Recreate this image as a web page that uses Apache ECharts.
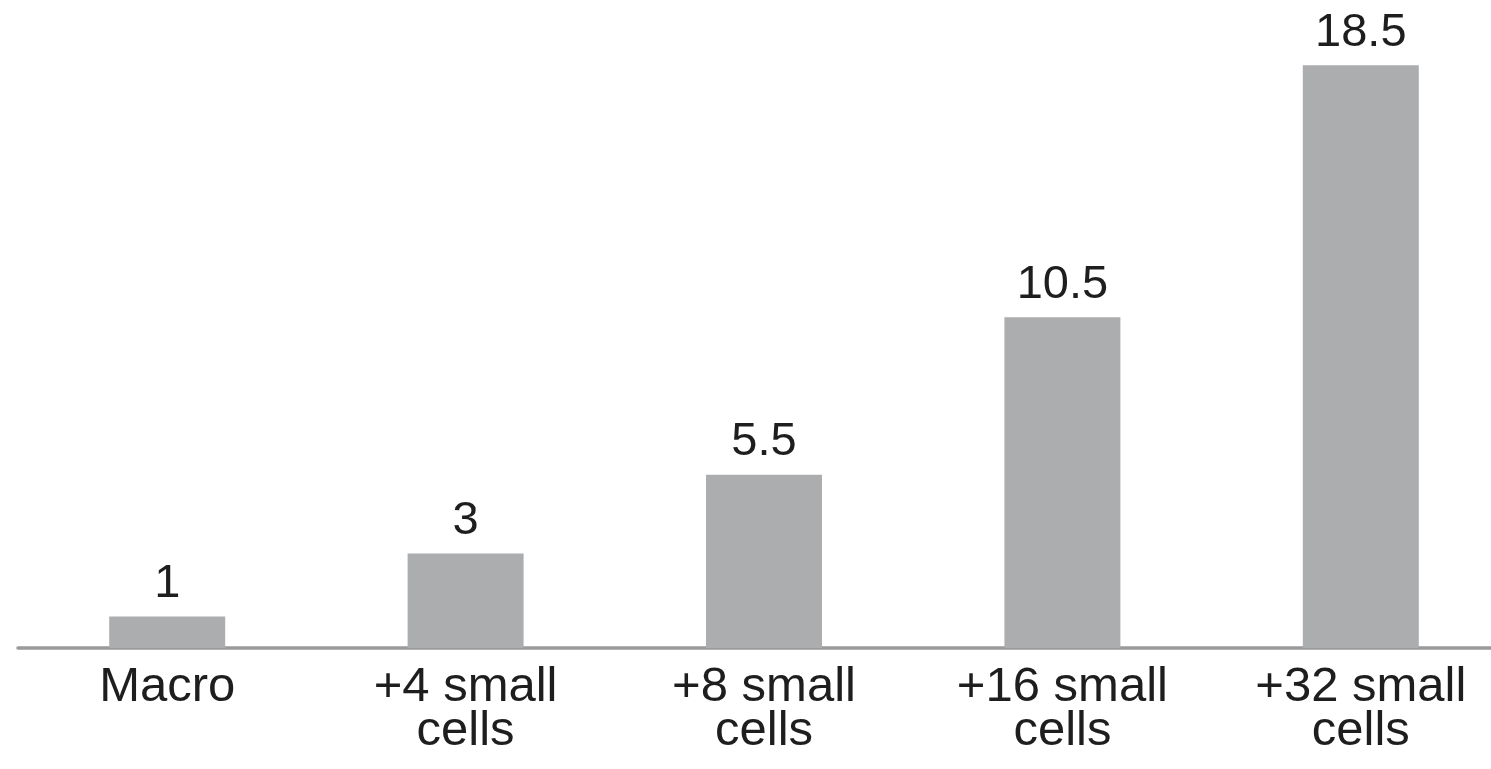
<!DOCTYPE html>
<html>
<head>
<meta charset="utf-8">
<script src="https://cdn.jsdelivr.net/npm/echarts@6/dist/echarts.min.js"></script>
<style>
  html, body { margin: 0; padding: 0; background: #ffffff; }
  #chart { width: 1491px; height: 769px; }
</style>
</head>
<body>
<div id="chart"></div>
<script>
const categories = ['Macro', '+4 small\ncells', '+8 small\ncells', '+16 small\ncells', '+32 small\ncells'];
const values = [1, 3, 5.5, 10.5, 18.5];

const chart = echarts.init(document.getElementById('chart'), null, { renderer: 'canvas' });
chart.setOption({
  backgroundColor: '#ffffff',
  animation: false,
  grid: { left: 18, top: 18, width: 1492, bottom: 121, containLabel: false, outerBoundsMode: 'none' },
  xAxis: {
    type: 'category',
    data: categories,
    axisLine: { show: true, lineStyle: { color: '#9a9a9a', width: 3.5 } },
    axisTick: { show: false },
    axisLabel: {
      color: '#1e1e1e',
      fontFamily: 'Liberation Sans, Arial, sans-serif',
      fontSize: 49,
      lineHeight: 44,
      margin: 17,
      interval: 0
    }
  },
  yAxis: {
    type: 'value',
    min: 0,
    max: 20,
    show: false,
    splitLine: { show: false }
  },
  series: [{
    type: 'bar',
    data: values,
    barWidth: 116,
    itemStyle: { color: '#acadaf' },
    label: {
      show: true,
      position: 'top',
      distance: 9,
      color: '#1e1e1e',
      fontFamily: 'Liberation Sans, Arial, sans-serif',
      fontSize: 47
    }
  }]
});
</script>
</body>
</html>
